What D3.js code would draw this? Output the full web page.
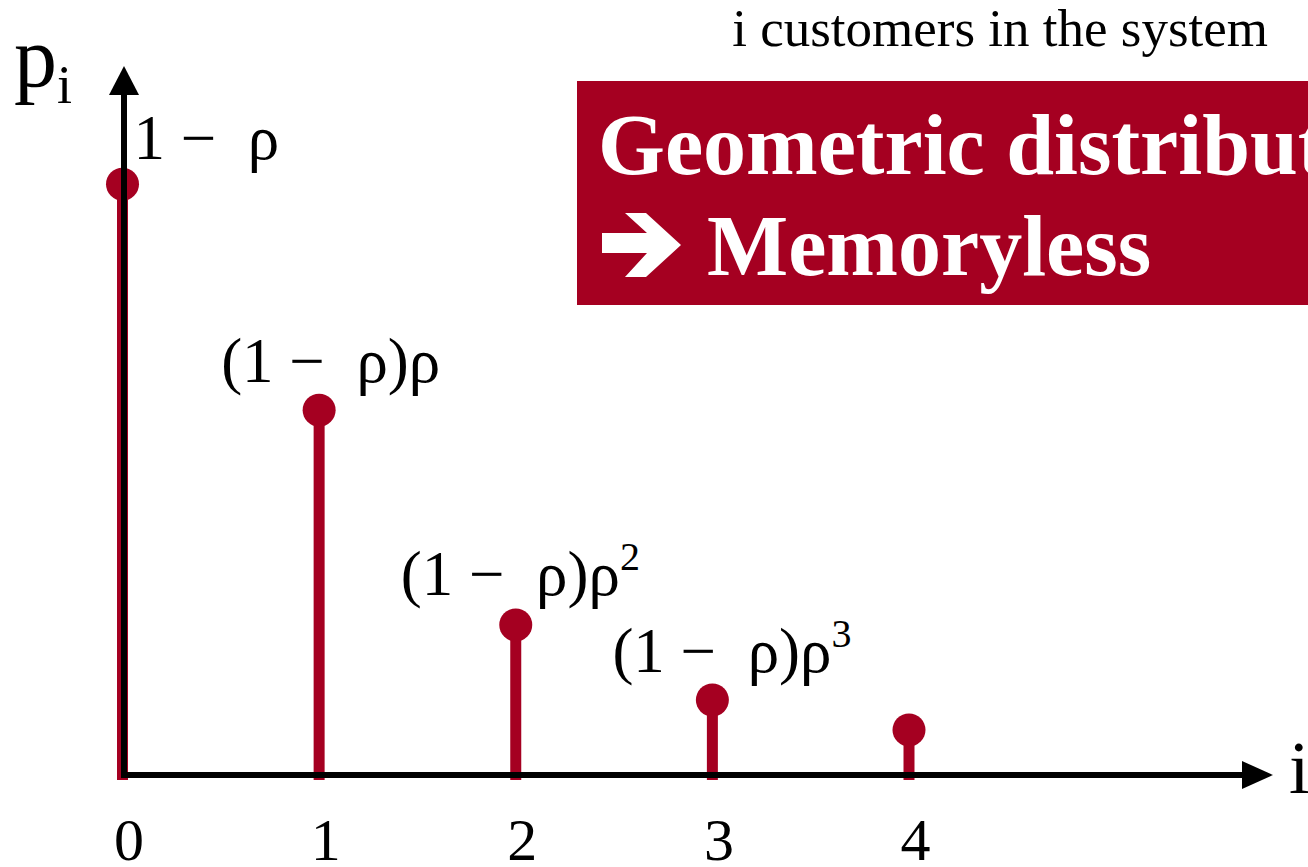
<!DOCTYPE html>
<html>
<head>
<meta charset="utf-8">
<script src="https://cdn.jsdelivr.net/npm/d3@7"></script>
<style>
  html, body { margin: 0; padding: 0; background: #fff; overflow: hidden; }
  svg { display: block; }
  text { font-family: "Liberation Serif", "Times New Roman", serif; white-space: pre; }
</style>
</head>
<body>
<svg id="chart" width="1308" height="867"></svg>
<script>
// data
const states = [0, 1, 2, 3, 4]
const probs = [0.40, 0.247, 0.1016, 0.0508, 0.0305]
const probLabels = ["1 −  ρ", "(1 −  ρ)ρ", "(1 −  ρ)ρ", "(1 −  ρ)ρ"]
const labelPowers = ["", "", "2", "3"]
const title = "i customers in the system"
const boxLines = ["Geometric distribution", "Memoryless"]

// layout
const red = "#a50021"
const labelDx = [11, -98, -115, -100]
const labelDy = [-25, -28, -30, -28]

const svg = d3.select("#chart")
const x = d3.scaleLinear().domain([0, 4]).range([122.5, 909])
const y = d3.scaleLinear().domain([0, 0.48]).range([775, 66])

// box
svg.append("rect")
  .attr("x", 577).attr("y", 81)
  .attr("width", 800).attr("height", 224)
  .attr("fill", red)
svg.append("text")
  .attr("x", 598).attr("y", 174)
  .attr("font-size", 86).attr("font-weight", "bold")
  .attr("fill", "#fff")
  .text(boxLines[0])
// heavy arrow
svg.append("path")
  .attr("d", "M602,233 L647,233 L625,213 L646,213 L681,245 L646,277 L625,277 L647,253 L602,253 Z")
  .attr("fill", "#fff")
svg.append("text")
  .attr("x", 707).attr("y", 275)
  .attr("font-size", 86).attr("font-weight", "bold")
  .attr("fill", "#fff")
  .text(boxLines[1])

svg.append("text")
  .attr("x", 1268).attr("y", 46)
  .attr("text-anchor", "end")
  .attr("font-size", 53)
  .text(title)

// stems and dots
svg.selectAll(".stem").data(states).enter().append("line")
  .attr("class", "stem")
  .attr("x1", d => x(d)).attr("x2", d => x(d))
  .attr("y1", d => y(probs[d])).attr("y2", y(0) + 5)
  .attr("stroke", red).attr("stroke-width", 11)
svg.selectAll(".dot").data(states).enter().append("circle")
  .attr("class", "dot")
  .attr("cx", d => x(d)).attr("cy", d => y(probs[d]))
  .attr("r", 16.5)
  .attr("fill", red)

// axes
const ax = x(0) + 1.5
svg.append("line")
  .attr("x1", ax).attr("x2", ax)
  .attr("y1", y(0) + 3).attr("y2", 92)
  .attr("stroke", "#000").attr("stroke-width", 6)
svg.append("path")
  .attr("d", `M${ax},66 L${ax - 15},95 L${ax + 15},95 Z`)
  .attr("fill", "#000")
svg.append("line")
  .attr("x1", ax - 3).attr("x2", 1245)
  .attr("y1", y(0)).attr("y2", y(0))
  .attr("stroke", "#000").attr("stroke-width", 6)
svg.append("path")
  .attr("d", `M1273,${y(0)} L1242,${y(0) - 14} L1242,${y(0) + 14} Z`)
  .attr("fill", "#000")

const xAxis = svg.append("g")
  .attr("transform", `translate(6,${y(0)})`)
  .call(d3.axisBottom(x).tickValues(states).tickSize(0).tickFormat(d3.format("d")))
xAxis.select(".domain").remove()
xAxis.selectAll("text")
  .attr("y", 85).attr("dy", 0)
  .attr("font-family", "Liberation Serif")
  .attr("font-size", 60)
  .attr("fill", "#000")

// axis labels
const pl = svg.append("text").attr("x", 14).attr("y", 86).attr("font-size", 86)
pl.append("tspan").text("p")
pl.append("tspan").attr("font-size", 54).attr("dy", 17).text("i")
svg.append("text")
  .attr("x", 1289).attr("y", 793)
  .attr("font-size", 74)
  .text("i")

// value labels
probLabels.forEach((t, i) => {
  const tx = svg.append("text")
    .attr("x", x(states[i]) + labelDx[i])
    .attr("y", y(probs[i]) + labelDy[i])
    .attr("font-size", 63)
  tx.append("tspan").text(t)
  if (labelPowers[i]) {
    tx.append("tspan").attr("font-size", 40).attr("dy", -25).text(labelPowers[i])
  }
})
</script>
</body>
</html>
